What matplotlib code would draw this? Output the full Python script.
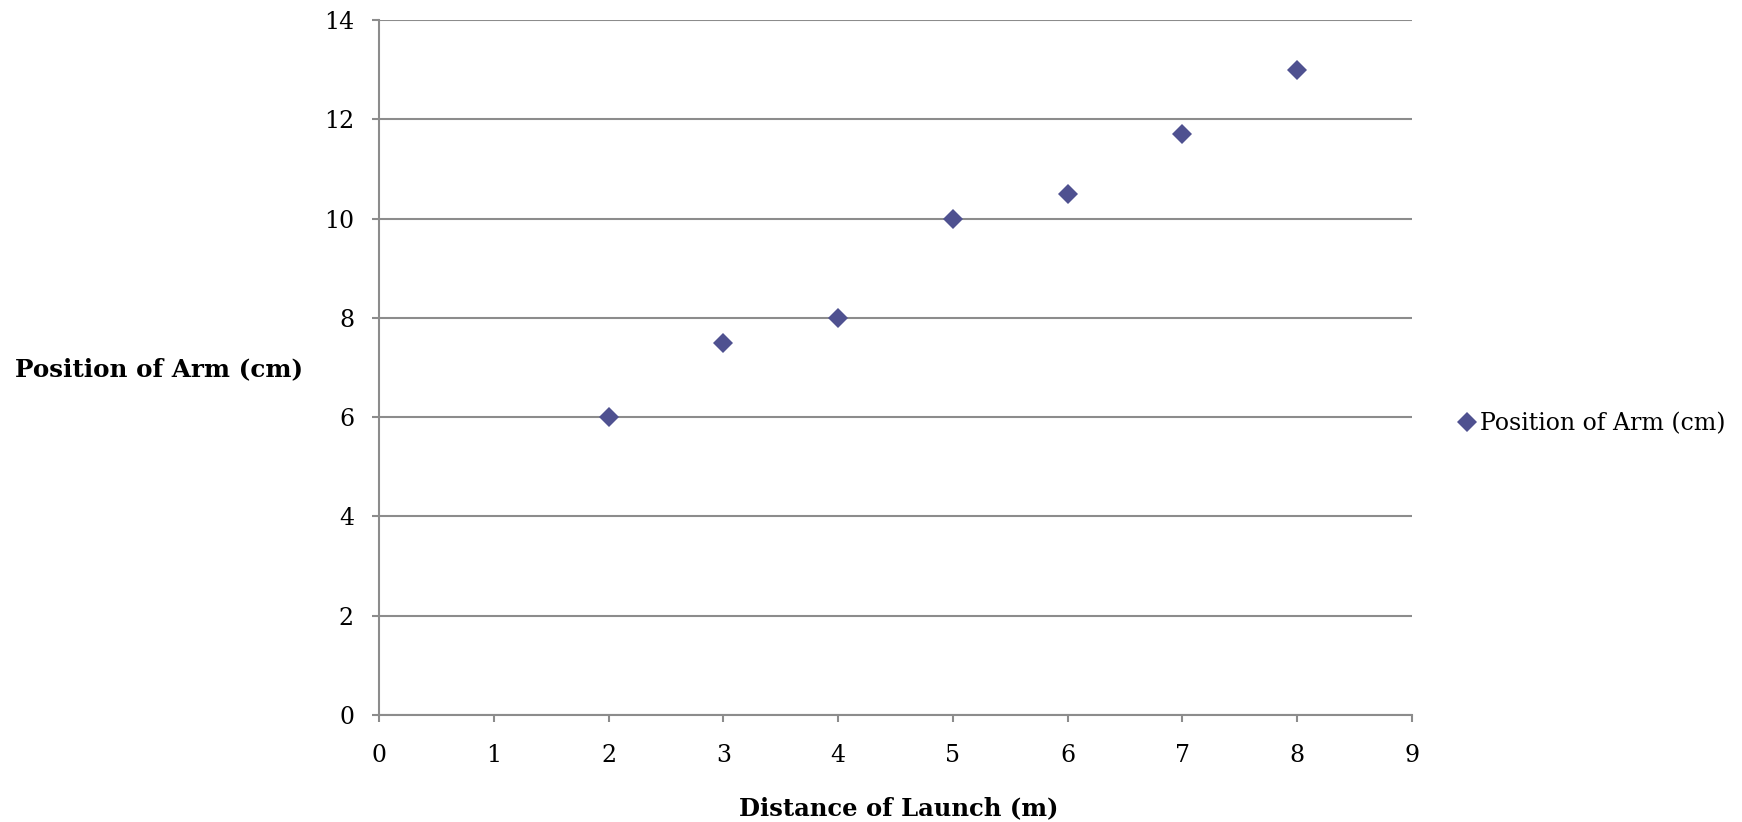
import matplotlib
matplotlib.use("Agg")
import matplotlib.pyplot as plt

# data
distance_m = [2, 3, 4, 5, 6, 7, 8]
arm_position_cm = [6, 7.5, 8, 10, 10.5, 11.7, 13]
x_ticks = list(range(0, 10))
y_ticks = list(range(0, 15, 2))

SERIES_LABEL = "Position of Arm (cm)"
MARKER_COLOR = "#4F5190"
GRID_COLOR = "#8C8C8C"

plt.rcParams["font.family"] = ["DejaVu Serif"]

W, H = 1742, 822
fig = plt.figure(figsize=(W / 100, H / 100), dpi=100)
fig.patch.set_facecolor("white")

left, right, top, bottom = 379, 1412, 20, 715
ax = fig.add_axes([left / W, 1 - bottom / H, (right - left) / W, (bottom - top) / H])

ax.plot(distance_m, arm_position_cm, linestyle="none", marker="D", ms=10.5,
        color=MARKER_COLOR, markeredgewidth=0, label=SERIES_LABEL, zorder=3)

ax.set_xlim(0, 9)
ax.set_ylim(0, 14)
ax.set_xticks(x_ticks)
ax.set_yticks(y_ticks)
ax.yaxis.grid(True, color=GRID_COLOR, linewidth=1.5)
ax.set_axisbelow(True)

for side in ("top", "right"):
    ax.spines[side].set_visible(False)
for side in ("left", "bottom"):
    ax.spines[side].set_color(GRID_COLOR)
    ax.spines[side].set_linewidth(1.5)

ax.tick_params(axis="y", direction="out", length=5, width=1.5, color=GRID_COLOR,
               labelsize=17, pad=13)
ax.tick_params(axis="x", direction="out", length=5, width=1.5, color=GRID_COLOR,
               labelsize=17, pad=16)

fig.text(15 / W, 1 - 369 / H, "Position of Arm (cm)", ha="left", va="center",
         fontsize=17.7, fontweight="bold")
fig.text(899 / W, 1 - 808 / H, "Distance of Launch (m)", ha="center", va="center",
         fontsize=17.5, fontweight="bold")

leg = fig.legend(loc="center left", bbox_to_anchor=(1455 / W, 1 - 424 / H),
                 frameon=False, fontsize=17, handletextpad=0.05, handlelength=1.0,
                 borderaxespad=0, borderpad=0)

fig.savefig("out.png", dpi=100, facecolor="white")
